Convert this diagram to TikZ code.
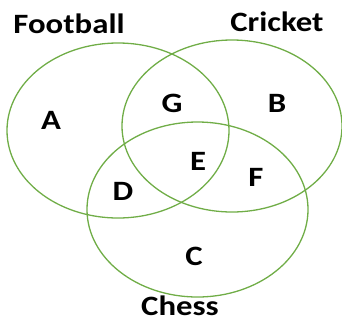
\documentclass[tikz,border=0pt]{standalone}
\usepackage{fontspec}
\setmainfont{Carlito}
\definecolor{vgreen}{HTML}{70AD47}
\newcommand{\widetxt}[1]{\scalebox{1.17}[1]{#1}}
\begin{document}
\begin{tikzpicture}[x=1pt,y=-1pt,
  setring/.style={draw=vgreen,line width=1.3pt},
  lbl/.style={font=\bfseries\fontsize{28}{32}\selectfont,inner sep=0pt},
  reg/.style={font=\bfseries\fontsize{28}{32}\selectfont,inner sep=0pt}]
\useasboundingbox (0,0) rectangle (342,322);
\draw[setring] (118,130.5) ellipse [x radius=111, y radius=87.5];
\draw[setring] (232,126) ellipse [x radius=110, y radius=86];
\draw[setring] (197.5,209.5) ellipse [x radius=110.5, y radius=87.5];
\node[lbl] (football) at (69,24) {\widetxt{Football}};
\node[lbl] (cricket) at (277,22) {\widetxt{Cricket}};
\node[lbl] (chess) at (180,306) {\widetxt{Chess}};
\node[reg] (A) at (51,120) {\widetxt{A}};
\node[reg] (G) at (172,103) {\widetxt{G}};
\node[reg] (B) at (277,103) {\widetxt{B}};
\node[reg] (E) at (198,161) {\widetxt{E}};
\node[reg] (F) at (256,177) {\widetxt{F}};
\node[reg] (D) at (123,191) {\widetxt{D}};
\node[reg] (C) at (194,256) {\widetxt{C}};
\end{tikzpicture}
\end{document}
